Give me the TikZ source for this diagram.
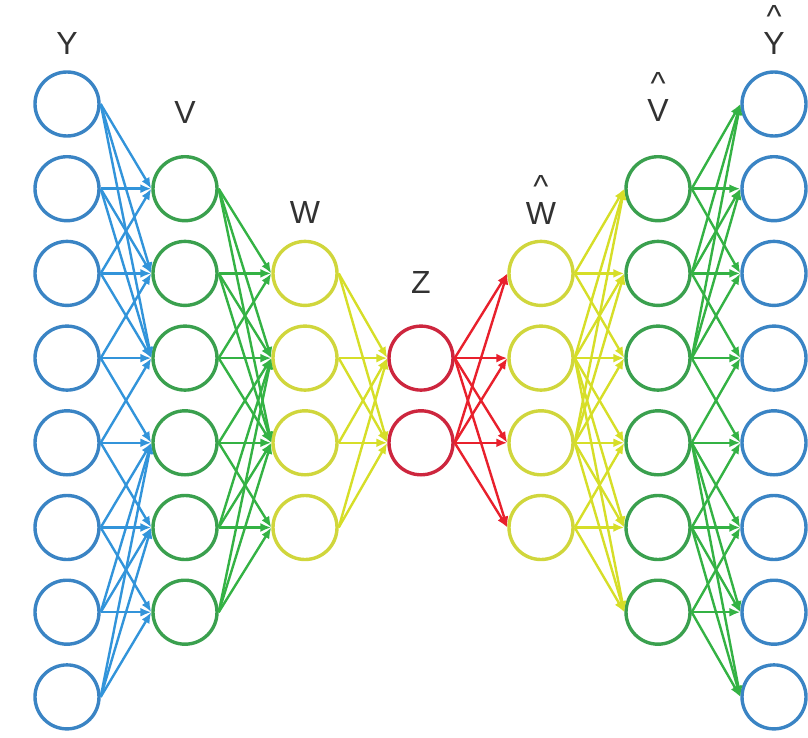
\documentclass[tikz,border=0pt]{standalone}
\usepackage{fontspec}
\setmainfont{Liberation Sans}
\usetikzlibrary{arrows.meta}
\definecolor{blueC}{RGB}{58,132,196}
\definecolor{blueL}{RGB}{50,148,218}
\definecolor{greenC}{RGB}{58,160,78}
\definecolor{greenL}{RGB}{52,178,68}
\definecolor{yelC}{RGB}{208,214,60}
\definecolor{yelL}{RGB}{214,222,40}
\definecolor{redC}{RGB}{205,38,62}
\definecolor{redL}{RGB}{232,32,44}
\definecolor{labc}{RGB}{50,50,50}
\tikzset{
  neuron/.style={circle, draw, line width=3.4pt, minimum size=64pt, inner sep=0pt},
  conn/.style={line width=2.4pt, -{Latex[length=11pt,width=9pt]}},
  lab/.style={text=labc, font=\fontsize{32}{36}\selectfont, inner sep=0pt},
  hatlab/.style={text=labc, font=\fontsize{32}{27}\selectfont, inner sep=0pt, align=center, anchor=south}
}
\begin{document}
\begin{tikzpicture}[x=1pt,y=-1pt]
\useasboundingbox (0,0) rectangle (808,738);
\def\rowy#1{104+(#1-1)*84.7}
% layers
\foreach \i in {1,...,8} \node[neuron, draw=blueC] (y\i) at (67,{\rowy{\i}}) {};
\foreach \i in {2,...,7} \node[neuron, draw=greenC] (v\i) at (185,{\rowy{\i}}) {};
\foreach \i in {3,...,6} \node[neuron, draw=yelC] (w\i) at (305,{\rowy{\i}}) {};
\foreach \i in {4,5} \node[neuron, draw=redC] (z\i) at (421,{\rowy{\i}}) {};
\foreach \i in {3,...,6} \node[neuron, draw=yelC] (wh\i) at (541,{\rowy{\i}}) {};
\foreach \i in {2,...,7} \node[neuron, draw=greenC] (vh\i) at (658,{\rowy{\i}}) {};
\foreach \i in {1,...,8} \node[neuron, draw=blueC] (yh\i) at (774,{\rowy{\i}}) {};
% labels
\node[lab] (lY) at (67,43) {Y};
\node[lab] (lV) at (185,112) {V};
\node[lab] (lW) at (305,212) {W};
\node[lab] (lZ) at (421,282) {Z};
\node[hatlab] (lWh) at (541,225) {\textasciicircum\\W};
\node[hatlab] (lVh) at (658,122) {\textasciicircum\\V};
\node[hatlab] (lYh) at (774,55) {\textasciicircum\\Y};
% Y -> V and Vh -> Yh
\foreach \i in {1,...,8} {
  \pgfmathtruncatemacro{\s}{max(2,min(\i-1,5))}
  \pgfmathtruncatemacro{\e}{\s+2}
  \foreach \j in {\s,...,\e} {
    \draw[conn, blueL] (y\i.east) -- (v\j.west);
    \draw[conn, greenL] (vh\j.east) -- (yh\i.west);
  }
}
% V -> W and Wh -> Vh
\foreach \j in {2,...,7} {
  \pgfmathtruncatemacro{\s}{max(3,min(\j-1,4))}
  \pgfmathtruncatemacro{\e}{\s+2}
  \foreach \k in {\s,...,\e} {
    \draw[conn, greenL] (v\j.east) -- (w\k.west);
    \draw[conn, yelL] (wh\k.east) -- (vh\j.west);
  }
}
% W -> Z and Z -> Wh
\foreach \k in {3,...,6} {
  \foreach \m in {4,5} {
    \draw[conn, yelL] (w\k.east) -- (z\m.west);
    \draw[conn, redL] (z\m.east) -- (wh\k.west);
  }
}
\end{tikzpicture}
\end{document}
